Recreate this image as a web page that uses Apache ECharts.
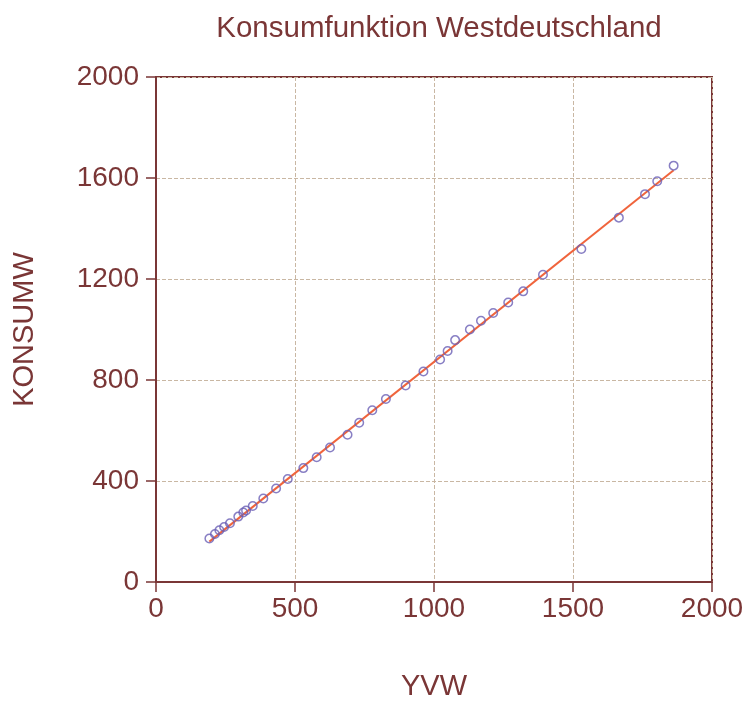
<!DOCTYPE html>
<html>
<head>
<meta charset="utf-8">
<script src="https://cdn.jsdelivr.net/npm/echarts@6/dist/echarts.min.js"></script>
<style>html,body{margin:0;padding:0;background:#fff}#c{width:747px;height:706px}</style>
</head>
<body>
<div id="c"></div>
<script>
const yvw = [192,212,228,245,266,296,314,324,348,386,432,474,530,578,626,689,731,778,827,898,962,1022,1049,1076,1129,1169,1213,1267,1321,1392,1530,1665,1759,1803,1862];
const konsumw = [172,190,205,218,233,259,275,283,301,331,370,408,451,494,533,583,631,680,725,778,834,881,915,958,1000,1035,1065,1107,1151,1217,1319,1443,1536,1587,1649];
const fitX = [192,1862];
const fitY = [160,1631];
const xTicks = [0,500,1000,1500,2000];
const yTicks = [0,400,800,1200,1600,2000];

const txt = '#7a3636';
const font = 'Liberation Sans';
const chart = echarts.init(document.getElementById('c'));
chart.setOption({
  animation:false,
  backgroundColor:'#fff',
  title:{text:'Konsumfunktion Westdeutschland',left:434,textAlign:'center',top:9,
    textStyle:{color:txt,fontFamily:font,fontSize:29.5,fontWeight:'normal'}},
  grid:{left:156,right:35,top:77,bottom:118,show:true,borderColor:txt,borderWidth:2,backgroundColor:'transparent'},
  xAxis:{type:'value',min:xTicks[0],max:xTicks[xTicks.length-1],interval:500,
    name:'YVW',nameLocation:'middle',nameGap:90,
    nameTextStyle:{color:txt,fontFamily:font,fontSize:29},
    axisLine:{lineStyle:{color:txt,width:2}},
    axisTick:{inside:false,length:10,lineStyle:{color:txt,width:1.5}},
    axisLabel:{color:txt,fontFamily:font,fontSize:28,margin:13,formatter:v=>String(v)},
    splitLine:{show:true,lineStyle:{color:'#c9b7a3',type:'dashed',width:1}}},
  yAxis:{type:'value',min:yTicks[0],max:yTicks[yTicks.length-1],interval:400,
    name:'KONSUMW',nameLocation:'middle',nameGap:117,
    nameTextStyle:{color:txt,fontFamily:font,fontSize:29},
    axisLine:{lineStyle:{color:txt,width:2}},
    axisTick:{inside:false,length:10,lineStyle:{color:txt,width:1.5}},
    axisLabel:{color:txt,fontFamily:font,fontSize:28,margin:17,formatter:v=>String(v)},
    splitLine:{show:true,lineStyle:{color:'#c9b7a3',type:'dashed',width:1}}},
  series:[
    {type:'line',data:fitX.map((x,i)=>[x,fitY[i]]),showSymbol:false,symbol:'none',
     lineStyle:{color:'#f0643c',width:2},z:3},
    {type:'scatter',data:yvw.map((x,i)=>[x,konsumw[i]]),symbol:'circle',symbolSize:8.5,
     itemStyle:{color:'rgba(255,255,255,0)',borderColor:'#6a5fb5',borderWidth:1.5},z:4}
  ]
});
</script>
</body>
</html>
